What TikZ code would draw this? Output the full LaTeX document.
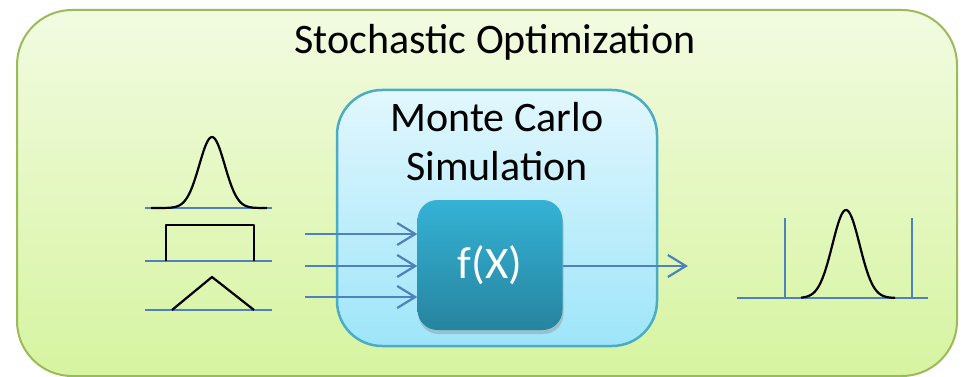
\documentclass[tikz,border=0pt]{standalone}
\usepackage{fontspec}
\setmainfont{Carlito}
\usetikzlibrary{arrows.meta,positioning,shadows}
\definecolor{olivedge}{RGB}{155,187,89}
\definecolor{greentop}{RGB}{242,251,225}
\definecolor{greenbot}{RGB}{214,244,160}
\definecolor{cyanedge}{RGB}{75,172,198}
\definecolor{cyantop}{RGB}{226,247,253}
\definecolor{cyanbot}{RGB}{158,229,250}
\definecolor{fxtop}{RGB}{53,178,214}
\definecolor{fxbot}{RGB}{38,132,158}
\definecolor{axisblue}{RGB}{79,129,189}
\newcommand{\gauss}[4]{exp(-((#1-#2)/#3)^2/2)*#4}

\begin{document}
\begin{tikzpicture}[x=1pt,y=-1pt,
    axis/.style={draw=axisblue, line width=2.2pt},
    curve/.style={draw=black, line width=2.2pt, line join=round},
    flow/.style={draw=axisblue, line width=2.2pt, -{Straight Barb[length=18pt,width=22pt,line width=2.2pt]}}]
        \useasboundingbox (0,0) rectangle (961,377);
        %boxes
        \draw[olivedge, line width=2pt, rounded corners=55pt, top color=greentop, bottom color=greenbot]
            (17,10) rectangle (957,376);
        \node[font=\fontsize{42}{49}\selectfont] (title) at (495,42) {Stochastic Optimization};
        \draw[cyanedge, line width=2.5pt, rounded corners=45pt, top color=cyantop, bottom color=cyanbot]
            (337,90) rectangle (657,346);
        \node[font=\fontsize{42}{49}\selectfont, align=center] (mc) at (497,142) {Monte Carlo\\Simulation};
        \node[draw=none, rounded corners=20pt, minimum width=145pt, minimum height=130pt,
            top color=fxtop, bottom color=fxbot, text=white, font=\fontsize{45}{52}\selectfont,
            drop shadow={opacity=0.35, shadow xshift=1pt, shadow yshift=-4pt}] (fx) at (490,265) {f(X)};
        %input distributions
        \draw[axis] (145,208) -- (272,208);
        \draw[curve] plot[domain=151:267, samples=80, smooth] (\x, {208 - \gauss{\x}{212}{12.7}{71}});
        \draw[axis] (145,261) -- (272,261);
        \draw[curve] (166,261) -- (166,225) -- (254,225) -- (254,261);
        \draw[axis] (145,310) -- (272,310);
        \draw[curve] (172,310) -- (212,277) -- (254,310);
        %output distribution
        \draw[axis] (737,298) -- (928,298);
        \draw[axis] (785,218) -- (785,298);
        \draw[axis] (912,218) -- (912,298);
        \draw[curve] plot[domain=801:895, samples=80, smooth] (\x, {298 - \gauss{\x}{846}{13.6}{88}});
        %arrows
        \coordinate (in1) at (305,234);
        \coordinate (in2) at (305,266);
        \coordinate (in3) at (305,297);
        \coordinate (out) at (688,266);
        \foreach \c in {in1,in2,in3}
            \path[flow] (\c) -- (\c -| fx.west);
        \path[flow] (fx.east |- out) -- (out);
      \end{tikzpicture}
\end{document}
